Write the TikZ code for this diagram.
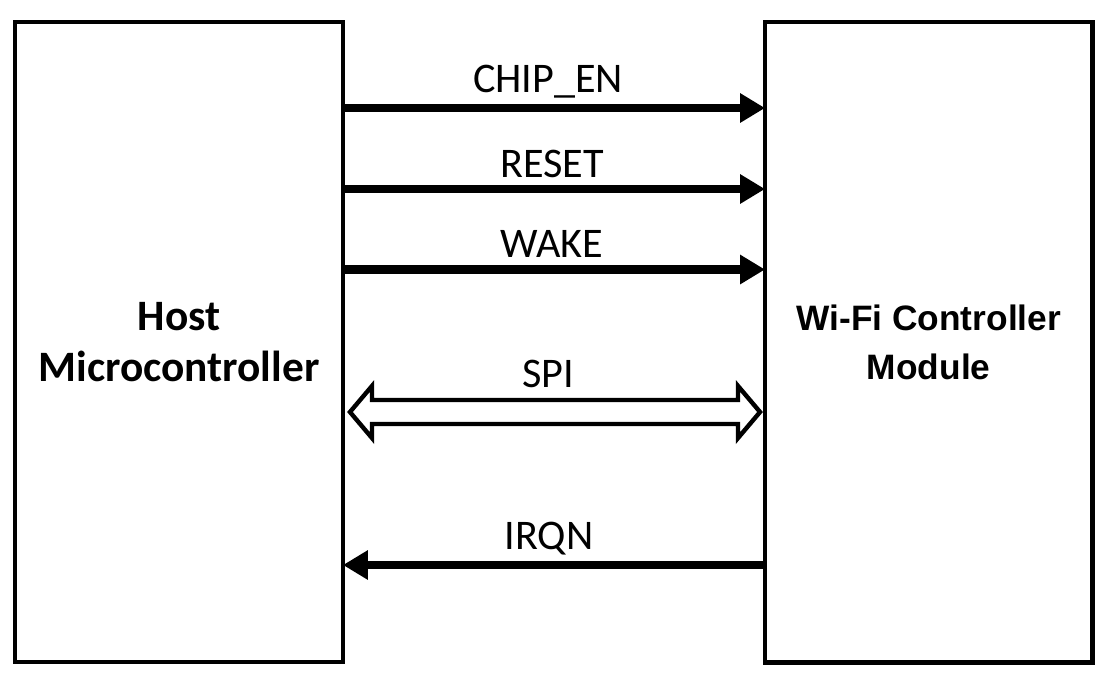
\documentclass[tikz,border=0pt]{standalone}
\usepackage{fontspec}
\setmainfont{Carlito}
\newfontfamily\arialfont{Liberation Sans}
\usetikzlibrary{arrows.meta}
\usetikzlibrary{calc}
\tikzset{box/.style = {draw, line width=2.5pt, inner sep=0pt, outer sep=0pt, align=center},
         sig/.style = {line width=4.8pt, -{Triangle[length=0.5cm,width=0.56cm]}},
         spiarrow/.style = {line width=2.5pt, line join=miter},
         lbl/.style = {anchor=base, inner sep=0pt, font=\fontsize{24}{28}\selectfont}}

\begin{document}
\begin{tikzpicture}[x=0.02cm, y=-0.02cm]
        \useasboundingbox (0,0) rectangle (1103,674);
        \node[box, minimum width=6.56cm, minimum height=12.8cm,
              font=\fontsize{24.7}{29.5}\selectfont\bfseries] (host) at (179,342) {Host\\Microcontroller};
        \node[box, minimum width=6.55cm, minimum height=12.81cm,
              font=\arialfont\fontsize{20.1}{27.8}\selectfont\bfseries] (wifi) at (928.75,342.25) {Wi-Fi Controller\\Module};
        \coordinate (chip) at (550,108);
        \coordinate (reset) at (550,189);
        \coordinate (wake) at (550,269.5);
        \coordinate (spi) at (550,412);
        \coordinate (irqn) at (550,565);
        \draw[sig] (host.east |- chip) -- (wifi.west |- chip);
        \draw[sig] (host.east |- reset) -- (wifi.west |- reset);
        \draw[sig] (host.east |- wake) -- (wifi.west |- wake);
        \draw[sig] (wifi.west |- irqn) -- (host.east |- irqn);
        \coordinate (spiL) at ($(host.east |- spi)+(7,0)$);
        \coordinate (spiR) at ($(wifi.west |- spi)+(-5,0)$);
        \draw[spiarrow] (spiL) -- ++(22,-26) -- ++(0,14) -- ($(spiR)+(-22,-12)$) -- ++(0,-14)
              -- (spiR) -- ++(-22,26) -- ++(0,-14) -- ($(spiL)+(22,12)$) -- ++(0,14) -- cycle;
        \node[lbl] (chiplbl) at (548,92) {CHIP\_EN};
        \node[lbl] (resetlbl) at (552,177) {RESET};
        \node[lbl] (wakelbl) at (552,257) {WAKE};
        \node[lbl] (spilbl) at (548,387) {SPI};
        \node[lbl] (irqnlbl) at (549,549) {IRQN};
    \end{tikzpicture}
\end{document}
